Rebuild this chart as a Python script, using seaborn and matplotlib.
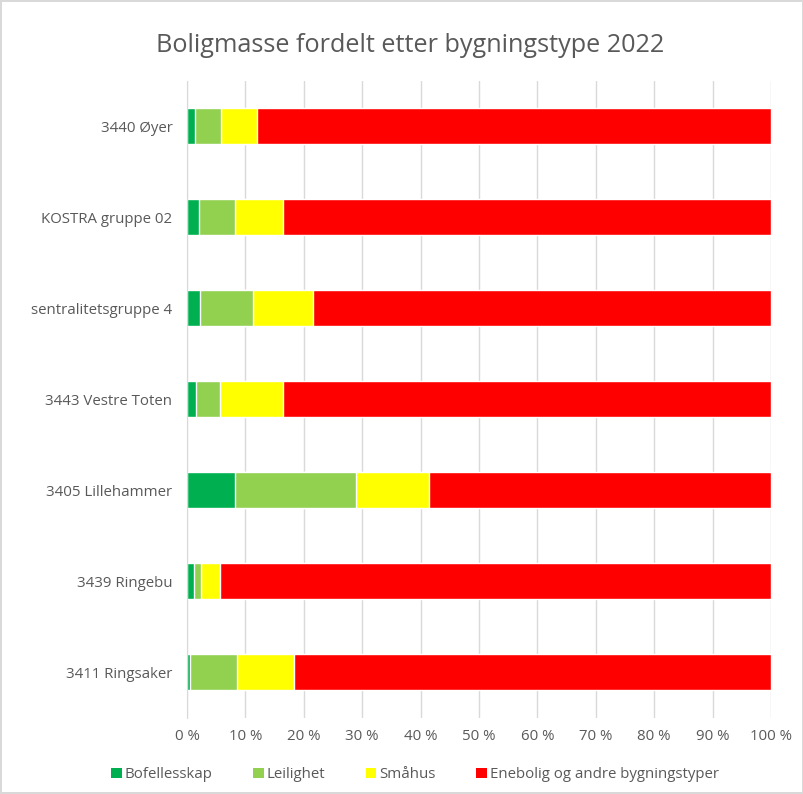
import numpy as np
import pandas as pd
import seaborn as sns
import matplotlib.pyplot as plt
from matplotlib.patches import Patch
from matplotlib.ticker import FuncFormatter

# Data (percent)
regions = ['3440 Øyer', 'KOSTRA gruppe 02', 'sentralitetsgruppe 4',
           '3443 Vestre Toten', '3405 Lillehammer', '3439 Ringebu', '3411 Ringsaker']
bofellesskap = [1.3, 2.0, 2.2, 1.6, 8.2, 1.2, 0.5]
leilighet = [4.6, 6.2, 9.1, 4.0, 20.7, 1.2, 8.1]
smahus = [6.1, 8.2, 10.2, 10.8, 12.5, 3.2, 9.8]
enebolig = [88.0, 83.6, 78.5, 83.6, 58.6, 94.4, 81.6]

series = ['Bofellesskap', 'Leilighet', 'Småhus', 'Enebolig og andre bygningstyper']
colors = ['#00B050', '#92D050', '#FFFF00', '#FF0000']

df = pd.DataFrame({'region': regions, series[0]: bofellesskap, series[1]: leilighet,
                   series[2]: smahus, series[3]: enebolig})
cum = df[series].cumsum(axis=1)
cum['region'] = df['region']

sns.set_style('white')
plt.rcParams['font.family'] = ['Open Sans', 'DejaVu Sans']
txt = '#595959'

fig = plt.figure(figsize=(8.04, 7.94), dpi=100)
fig.patch.set_edgecolor('#D9D9D9')
fig.patch.set_linewidth(1.5)
ax = fig.add_axes([0.2326, 0.0963, 0.7264, 0.8023])

# stacked bars: draw cumulative totals back to front
for name, col in reversed(list(zip(series, colors))):
    sns.barplot(data=cum, x=name, y='region', color=col, width=0.4,
                saturation=1, orient='h', ax=ax, zorder=2)

ax.set_xlim(0, 100)
ax.set_xticks(np.arange(0, 101, 10))
ax.xaxis.set_major_formatter(FuncFormatter(lambda v, p: f'{v:.0f} %'))
ax.grid(axis='x', color='#D9D9D9', linewidth=1, zorder=0)
ax.set_axisbelow(True)
for s in ['top', 'right', 'bottom']:
    ax.spines[s].set_visible(False)
ax.spines['left'].set_color('#D9D9D9')
ax.set_xlabel('')
ax.set_ylabel('')
ax.tick_params(axis='y', length=0, labelsize=10.8, colors=txt, pad=10.5)
ax.tick_params(axis='x', length=0, labelsize=10.8, colors=txt, pad=8)

fig.text(0.51, 0.943, 'Boligmasse fordelt etter bygningstype 2022', ha='center',
         va='center', fontsize=18.2, color=txt)

handles = [Patch(facecolor=c, edgecolor='none') for c in colors]
fig.legend(handles, series, loc='center', bbox_to_anchor=(0.516, 0.024), ncol=4,
           frameon=False, fontsize=10.8, labelcolor=txt, handlelength=0.7,
           handleheight=0.7, handletextpad=0.2, columnspacing=2.7)

fig.savefig('out.png', dpi=100)
